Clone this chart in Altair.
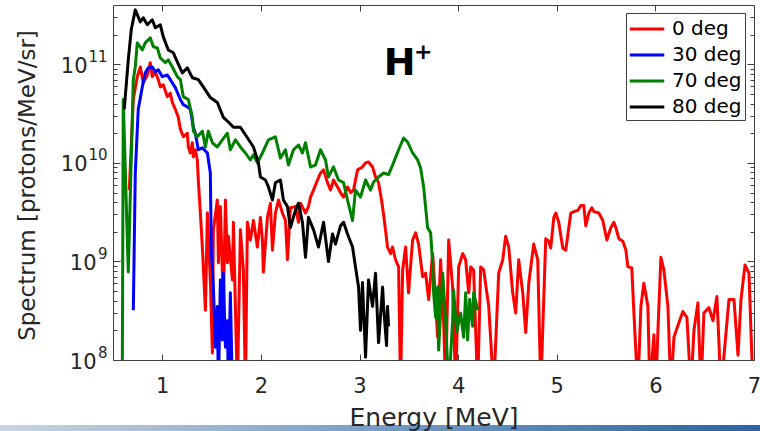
import altair as alt
import pandas as pd

FONT = "DejaVu Sans"
AXC = "#404040"
TXT = "#262626"

series_names = ["0 deg", "30 deg", "70 deg", "80 deg"]
series_colors = ["#ff0000", "#0000ff", "#008000", "#000000"]

x_ticks = [1, 2, 3, 4, 5, 6, 7]
y_major = [1e8, 1e9, 1e10, 1e11]
y_minor = [2e8, 3e8, 4e8, 5e8, 6e8, 7e8, 8e8, 9e8,
           2e9, 3e9, 4e9, 5e9, 6e9, 7e9, 8e9, 9e9,
           2e10, 3e10, 4e10, 5e10, 6e10, 7e10, 8e10, 9e10,
           2e11, 3e11]

# (energy [MeV], spectrum [protons/MeV/sr])
deg0 = [(0.665,5.3e9),(0.706,4.4e10),(0.746,7.5e10),(0.777,9.4e10),(0.807,6.5e10),(0.848,7.8e10),(0.878,1.04e11),
        (0.898,7.5e10),(0.929,8.4e10),(0.959,7.0e10),(0.980,5.9e10),(1.010,6.2e10),(1.051,4.7e10),(1.081,5.1e10),
        (1.102,4.1e10),(1.132,3.5e10),(1.162,2.9e10),(1.183,2.2e10),(1.213,1.84e10),(1.254,2.0e10),(1.264,1.45e10),
        (1.284,1.26e10),(1.305,1.6e10),(1.315,1.15e10),(1.335,1.36e10),(1.355,1.07e10),(1.365,6.7e9),(1.386,3.1e9),
        (1.406,1.4e9),(1.437,3.2e8),(1.457,3.1e9),(1.487,6.5e8),(1.508,1.18e8),(1.518,2.1e9),(1.558,4.2e9),
        (1.569,9.7e8),(1.589,3.6e9),(1.619,3.5e8),(1.640,4.2e9),(1.660,9.7e8),(1.670,1.8e9),(1.711,6.5e8),
        (1.721,2.5e9),(1.761,5e7),(1.792,2.1e9),(1.822,8.2e8),(1.843,5e7),(1.863,2.5e9),(1.893,1.65e9),
        (1.924,2.6e9),(1.964,1.4e9),(1.995,2.8e9),(2.015,1.65e9),(2.025,7.8e8),(2.066,2.8e9),(2.096,3.9e9),
        (2.117,1.3e9),(2.147,3.1e9),(2.178,4.2e9),(2.218,3.1e9),(2.249,2.6e9),(2.269,1.04e9),(2.299,3.5e9),
        (2.350,3.6e9),(2.381,2.5e9),(2.401,3.9e9),(2.452,3.1e9),(2.482,3.6e9),(2.503,4.5e9),(2.533,5.3e9),
        (2.574,6.7e9),(2.604,7.9e9),(2.635,8.5e9),(2.675,6.3e9),(2.706,5.3e9),(2.736,6.7e9),(2.777,5.7e9),
        (2.807,5.0e9),(2.838,4.5e9),(2.878,5.7e9),(2.909,5.0e9),(2.939,5.3e9),(2.980,8.5e9),(3.030,9.1e9),
        (3.061,1.0e10),(3.091,1.02e10),(3.132,9.1e9),(3.162,7.2e9),(3.193,6.3e9),(3.223,4.2e9),(3.244,3.0e9),
        (3.284,1.4e9),(3.315,1.2e9),(3.335,1.4e9),(3.365,1.04e9),(3.396,8.8e8),(3.416,5e7),(3.437,8.2e8),
        (3.467,1.4e9),(3.497,4.8e8),(3.538,1.65e9),(3.569,1.95e9),(3.599,1.5e9),(3.640,7.0e8),(3.670,7.6e8),
        (3.701,4.1e8),(3.741,1.2e9),(3.751,8.8e8),(3.792,1.7e8),(3.822,1.04e9),(3.853,2.4e8),(3.873,5e7),
        (3.904,1.65e9),(3.944,5.5e8),(3.975,5e7),(4.005,8.8e8),(4.046,1.2e9),(4.076,1.04e9),(4.107,4.8e8),
        (4.127,8.8e8),(4.157,8.2e8),(4.198,5e7),(4.228,8.8e8),(4.259,8.2e8),(4.310,3.5e8),(4.360,5e7),
        (4.411,7.6e8),(4.452,1.04e9),(4.482,1.8e9),(4.513,1.4e9),(4.553,4.8e8),(4.584,3.0e8),(4.614,1.04e9),
        (4.655,4.8e8),(4.685,1.9e8),(4.716,6.0e8),(4.766,1.5e9),(4.807,1.04e9),(4.838,5e7),(4.888,1.7e9),
        (4.919,1.6e9),(4.939,1.37e9),(4.970,2.8e9),(4.990,3.1e9),(5.020,2.5e9),(5.061,1.37e9),(5.091,1.3e9),
        (5.122,2.2e9),(5.142,3.1e9),(5.173,3.2e9),(5.213,3.3e9),(5.244,3.7e9),(5.274,3.7e9),(5.294,2.3e9),
        (5.325,3.1e9),(5.355,3.5e9),(5.376,3.2e9),(5.426,3.1e9),(5.467,2.6e9),(5.508,1.65e9),(5.548,2.2e9),
        (5.579,2.5e9),(5.599,2.2e9),(5.629,1.7e9),(5.670,1.6e9),(5.701,1.3e9),(5.721,8.8e8),(5.761,8.6e8),
        (5.782,3.0e8),(5.822,5e7),(5.853,3.5e8),(5.883,6.0e8),(5.924,3.5e8),(5.944,5e7),(5.985,1.8e8),
        (6.005,5e7),(6.025,1.9e8),(6.056,1.1e9),(6.086,8.2e8),(6.127,3.5e8),(6.157,5e7),(6.188,1.7e8),
        (6.239,2.4e8),(6.279,3.1e8),(6.320,2.7e8),(6.360,5e7),(6.391,2.0e8),(6.431,3.8e8),(6.462,5e7),
        (6.492,3.0e8),(6.543,3.4e8),(6.584,2.5e8),(6.624,4.4e8),(6.665,5e7),(6.746,4.1e8),(6.797,4.1e8),
        (6.838,1.12e8),(6.868,4.1e8),(6.909,9.2e8),(6.949,7.6e8),(6.990,5e7)]

deg30 = [(0.706,3.2e8),(0.726,7.9e9),(0.756,3.5e10),(0.797,5.9e10),(0.827,8.2e10),(0.858,9.2e10),(0.898,9.4e10),
         (0.929,8.4e10),(0.959,8.8e10),(1.0,7.5e10),(1.051,7.8e10),(1.081,7.0e10),(1.132,5.8e10),(1.183,4.4e10),
         (1.213,3.9e10),(1.254,3.7e10),(1.284,3.5e10),(1.315,2.3e10),(1.335,2.0e10),(1.365,1.36e10),(1.406,1.42e10),
         (1.457,1.26e10),(1.487,7.9e9),(1.497,1.3e9),(1.518,5.5e8),(1.538,1.35e8),(1.558,3.5e8),(1.569,5e7),
         (1.589,6.5e8),(1.609,1.6e8),(1.619,7.6e8),(1.640,1.35e8),(1.660,2.5e8),(1.670,5e7),(1.690,4.8e8),(1.711,5e7)]

deg70 = [(0.594,5e7),(0.604,4.4e10),(0.655,7.8e8),(0.706,7.0e10),(0.726,9.4e10),(0.746,1.65e11),(0.797,1.40e11),
         (0.827,1.65e11),(0.878,1.86e11),(0.909,1.51e11),(0.949,1.47e11),(0.980,1.16e11),(1.030,1.04e11),
         (1.061,1.11e11),(1.102,9.4e10),(1.152,7.5e10),(1.183,7.0e10),(1.213,4.7e10),(1.264,4.4e10),(1.305,2.9e10),
         (1.315,2.1e10),(1.355,1.84e10),(1.406,2.1e10),(1.437,1.45e10),(1.467,2.1e10),(1.508,1.6e10),(1.558,1.45e10),
         (1.609,1.71e10),(1.660,2.0e10),(1.690,1.36e10),(1.741,1.71e10),(1.792,1.45e10),(1.843,1.26e10),
         (1.893,1.07e10),(1.924,1.21e10),(1.964,1.0e10),(2.015,1.26e10),(2.076,1.71e10),(2.147,1.84e10),
         (2.198,1.12e10),(2.249,1.36e10),(2.279,9.5e9),(2.330,1.36e10),(2.381,1.52e10),(2.421,1.26e10),
         (2.452,1.6e10),(2.503,9.1e9),(2.553,9.5e9),(2.604,1.36e10),(2.655,1.07e10),(2.685,7.2e9),(2.736,9.1e9),
         (2.787,6.7e9),(2.838,6.3e9),(2.878,4.2e9),(2.929,2.6e9),(2.959,5.3e9),(3.010,4.5e9),(3.061,6.7e9),
         (3.112,5.3e9),(3.142,6.4e9),(3.193,7.2e9),(3.244,7.9e9),(3.294,7.6e9),(3.335,9.5e9),(3.396,1.36e10),
         (3.447,1.79e10),(3.487,1.63e10),(3.538,1.26e10),(3.589,1.07e10),(3.619,8.9e9),(3.650,5.7e9),(3.690,2.2e9),
         (3.721,1.95e9),(3.741,9.7e8),(3.751,4.8e8),(3.772,2.7e8),(3.792,5.5e8),(3.802,1.26e8),(3.843,7.6e8),
         (3.873,2.5e8),(3.904,5e7),(3.944,2.5e8),(3.954,5.1e8),(3.985,1.9e8),(4.025,3.0e8),(4.056,1.7e8),
         (4.076,4.8e8),(4.096,1.6e8),(4.117,4.1e8),(4.147,2.2e8),(4.157,4.8e8),(4.198,3.2e8)]

deg80 = [(0.614,3.5e10),(0.655,1.11e11),(0.685,2.24e11),(0.726,3.57e11),(0.777,2.70e11),(0.807,2.97e11),
         (0.848,2.52e11),(0.898,2.83e11),(0.929,2.35e11),(0.980,2.52e11),(1.010,1.90e11),(1.061,1.40e11),
         (1.112,1.31e11),(1.152,1.06e11),(1.203,8.2e10),(1.254,9.2e10),(1.305,7.3e10),(1.365,7.0e10),
         (1.416,5.9e10),(1.487,4.6e10),(1.558,4.1e10),(1.619,2.9e10),(1.670,2.6e10),(1.721,2.3e10),(1.792,2.3e10),
         (1.863,1.8e10),(1.924,1.45e10),(1.975,1.0e10),(1.995,7.2e9),(2.046,6.7e9),(2.076,5.7e9),(2.117,4.2e9),
         (2.147,6.3e9),(2.198,6.7e9),(2.228,4.2e9),(2.269,3.6e9),(2.299,2.2e9),(2.350,3.3e9),(2.381,3.9e9),
         (2.421,2.5e9),(2.452,1.1e9),(2.482,2.8e9),(2.533,2.1e9),(2.584,1.4e9),(2.635,2.5e9),(2.685,1.0e9),
         (2.726,1.9e9),(2.756,1.5e9),(2.807,2.3e9),(2.838,2.5e9),(2.878,1.9e9),(2.929,1.4e9),(2.959,8.8e8),
         (2.990,5.5e8),(3.010,2.0e8),(3.030,6.1e8),(3.061,1.07e8),(3.091,6.5e8),(3.132,3.5e8),(3.162,7.6e8),
         (3.193,1.5e8),(3.234,5.5e8),(3.244,3.5e8),(3.274,1.4e8),(3.284,3.5e8),(3.294,2.2e8)]

ann_text = ["H", "+"]
ann_energy = [3.406, 3.645]
ann_value = [7.8e10, 1.14e11]

rows = []
for name, pts in zip(series_names, [deg0, deg30, deg70, deg80]):
    for i, (e, v) in enumerate(pts):
        rows.append({"series": name, "energy": e, "value": v, "idx": i})
df = pd.DataFrame(rows)

W, H = 641, 355
xs = alt.Scale(domain=[0.5, 7], nice=False, zero=False)
ys = alt.Scale(type="log", domain=[1e8, 4.0e11], nice=False)

base = alt.Chart(df)

def tick_layer(xaxis, yaxis):
    return base.mark_line(strokeOpacity=0, clip=True).encode(
        x=alt.X("energy:Q", scale=xs, axis=xaxis),
        y=alt.Y("value:Q", scale=ys, axis=yaxis),
        detail="series:N",
        order="idx:Q",
    )

def tick_axis(orient, offset, values, size, domain):
    return alt.Axis(orient=orient, offset=offset, values=values, tickSize=size, tickColor=AXC,
                    tickWidth=1, labels=False, domain=domain, domainColor=AXC, domainWidth=1,
                    grid=False, title=None, zindex=1)

t1 = tick_layer(tick_axis("top", -H, x_ticks, 6, False), tick_axis("right", -W, y_major, 7, False))
t2 = tick_layer(tick_axis("bottom", -H, x_ticks, 6, True), tick_axis("left", -W, y_major, 7, True))
t3 = tick_layer(None, tick_axis("right", -W, y_minor, 4, False))
t4 = tick_layer(None, tick_axis("left", -W, y_minor, 4, False))

expo = tick_layer(None, alt.Axis(
    orient="left", values=y_major, labelExpr="'' + round(log(datum.value) / LN10)",
    labelFont=FONT, labelFontSize=15, labelColor=TXT, labelAlign="right",
    labelBaseline="alphabetic", labelOffset=-3, labelPadding=6, ticks=False, domain=False,
    grid=False, labelFlush=False, labelOverlap=False, title=None))

lines = base.mark_line(strokeWidth=3, clip=True, strokeJoin="round").encode(
    x=alt.X("energy:Q", scale=xs, axis=alt.Axis(
        orient="bottom", values=x_ticks, labelFont=FONT, labelFontSize=21, labelColor=TXT,
        labelBaseline="alphabetic", labelPadding=32, ticks=False, domain=True, domainColor=AXC,
        domainWidth=1, grid=False, labelFlush=False, labelOverlap=False,
        title="Energy [MeV]", titleFont=FONT, titleFontSize=25, titleFontWeight="normal",
        titleColor=TXT, titleY=65, titleBaseline="alphabetic", zindex=1)),
    y=alt.Y("value:Q", scale=ys, axis=alt.Axis(
        orient="left", values=y_major, labelExpr="'10'", labelFont=FONT, labelFontSize=21,
        labelColor=TXT, labelAlign="right", labelBaseline="alphabetic", labelOffset=8,
        labelPadding={"condition": {"test": "datum.value >= 1e10", "value": 26}, "value": 17},
        ticks=False, domain=True, domainColor=AXC, domainWidth=1, grid=False,
        labelFlush=False, labelOverlap=False,
        title="Spectrum [protons/MeV/sr]", titleFont=FONT, titleFontSize=23,
        titleFontWeight="normal", titleColor=TXT, titleX=-86, titleY=180,
        titleAlign="center", titleBaseline="middle", zindex=1)),
    color=alt.Color("series:N", scale=alt.Scale(domain=series_names, range=series_colors),
                    legend=alt.Legend(title=None, orient="none", legendX=513, legendY=8,
                                      direction="vertical", fillColor="white", strokeColor=AXC,
                                      padding=3, symbolType="M-1.5,0L1.5,0", symbolSize=529,
                                      symbolStrokeWidth=3, symbolOffset=5, labelOffset=12,
                                      labelFont=FONT, labelFontSize=20, labelColor="black",
                                      rowPadding=3)),
    order="idx:Q",
)

ann = pd.DataFrame({"label": ann_text, "energy": ann_energy, "value": ann_value})
h_text = alt.Chart(ann.iloc[[0]]).mark_text(font=FONT, fontWeight="bold", fontSize=38, color="black",
                                             align="center", baseline="alphabetic").encode(
    x=alt.X("energy:Q", scale=xs, axis=None), y=alt.Y("value:Q", scale=ys, axis=None), text="label:N")
p_text = alt.Chart(ann.iloc[[1]]).mark_text(font=FONT, fontWeight="bold", fontSize=22, color="black",
                                             align="center", baseline="alphabetic").encode(
    x=alt.X("energy:Q", scale=xs, axis=None), y=alt.Y("value:Q", scale=ys, axis=None), text="label:N")

strip = alt.Chart(pd.DataFrame({"k": [0]})).mark_rect(
    clip=False,
    color=alt.LinearGradient(gradient="linear", x1=0, x2=1, y1=0, y2=0,
                             stops=[alt.GradientStop(color="#c8d5e2", offset=0),
                                    alt.GradientStop(color="#7fa2c6", offset=0.45),
                                    alt.GradientStop(color="#2b63a3", offset=1)])
).encode(x=alt.value(-113), x2=alt.value(W + 6), y=alt.value(420), y2=alt.value(426))

chart = alt.layer(strip, t1, t2, t3, t4, expo, lines, h_text, p_text).resolve_axis(
    x="independent", y="independent"
).properties(
    width=W, height=H, autosize=alt.AutoSizeParams(type="none"),
    padding={"left": 113, "top": 5, "right": 6, "bottom": 71}, background="white"
).configure_view(strokeWidth=0)

chart.save("out.html", embed_options={"renderer": "svg", "actions": False})
